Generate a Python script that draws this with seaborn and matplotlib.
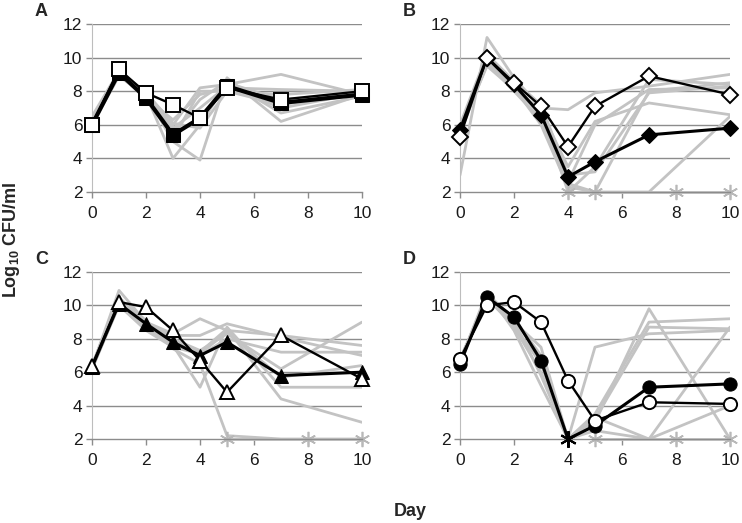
import matplotlib
matplotlib.use("Agg")
import matplotlib.pyplot as plt
import seaborn as sns
import pandas as pd
import numpy as np

sns.set_style("white")
plt.rcParams['font.family'] = ['Liberation Sans', 'DejaVu Sans']
plt.rcParams['mathtext.fontset'] = 'custom'
plt.rcParams['mathtext.rm'] = 'Liberation Sans'
plt.rcParams['mathtext.bf'] = 'Liberation Sans:bold'

days = [0, 1, 2, 3, 4, 5, 7, 10]

# Panel A
a_filled = [6.0, 9.1, 7.6, 5.4, 6.4, 8.3, 7.3, 7.8]
a_open = [6.0, 9.3, 7.9, 7.2, 6.4, 8.2, 7.5, 8.0]
a_gray = [
    [6.2, 9.0, 7.8, 4.0, 6.0, 8.5, 7.5, 7.8],
    [6.5, 9.2, 7.8, 5.0, 3.9, 8.8, 6.2, 7.8],
    [6.3, 9.1, 7.9, 6.0, 8.2, 8.4, 9.0, 7.8],
    [6.1, 9.0, 7.6, 6.3, 7.8, 8.2, 8.1, 8.0],
    [6.0, 8.9, 7.7, 5.8, 7.0, 8.3, 7.0, 7.9],
    [6.2, 9.1, 7.5, 5.5, 7.5, 8.6, 6.7, 7.7],
    [6.0, 9.2, 7.9, 6.1, 5.8, 8.0, 7.8, 8.1],
    [6.1, 9.0, 8.0, 5.2, 8.0, 8.0, 7.2, 7.9],
]
a_bdl_x = []

# Panel B
b_filled = [5.7, 10.0, 8.4, 6.6, 2.9, 3.8, 5.4, 5.8]
b_open = [5.3, 10.0, 8.5, 7.1, 4.7, 7.1, 8.9, 7.8]
b_gray = [
    [3.0, 11.2, 8.8, 7.0, 6.9, 7.9, 8.3, 9.0],
    [5.5, 9.6, 8.3, 6.8, 3.5, 6.2, 7.3, 6.6],
    [5.8, 9.8, 8.3, 6.5, 2.5, 2.0, 8.0, 8.5],
    [6.0, 10.2, 8.6, 7.2, 3.0, 3.2, 7.9, 8.3],
    [5.6, 9.9, 8.2, 6.0, 2.3, 2.0, 2.0, 6.5],
    [5.9, 9.7, 8.0, 6.3, 2.6, 6.0, 8.1, 8.2],
    [5.7, 9.5, 8.1, 6.9, 2.0, 3.5, 8.7, 8.4],
]
b_bdl_x = [4, 5, 8, 10]

# Panel C
c_filled = [6.3, 10.1, 8.9, 7.8, 7.0, 7.8, 5.8, 6.0]
c_open = [6.4, 10.2, 9.9, 8.5, 6.7, 4.8, 8.2, 5.6]
c_gray = [
    [6.3, 10.9, 9.0, 8.3, 9.2, 8.5, 8.2, 7.6],
    [6.4, 10.5, 8.8, 8.2, 8.2, 8.9, 8.1, 7.0],
    [6.2, 10.0, 8.6, 7.6, 5.1, 8.7, 5.1, 5.1],
    [6.3, 10.3, 8.7, 7.9, 7.2, 8.6, 4.4, 3.0],
    [6.4, 10.4, 9.1, 7.4, 6.5, 2.2, 2.0, 2.0],
    [6.2, 10.1, 8.9, 8.0, 7.3, 8.3, 6.2, 9.0],
    [6.3, 10.2, 8.7, 7.7, 7.0, 8.0, 7.2, 7.2],
    [6.4, 10.0, 8.5, 7.5, 7.1, 8.4, 5.7, 6.4],
]
c_bdl_x = [5, 8, 10]

# Panel D
d_filled = [6.5, 10.5, 9.3, 6.7, 2.0, 2.8, 5.1, 5.3]
d_open = [6.8, 10.0, 10.2, 9.0, 5.5, 3.1, 4.2, 4.1]
d_gray = [
    [6.6, 10.8, 8.5, 5.2, 2.0, 7.5, 8.3, 8.5],
    [6.7, 10.6, 9.0, 7.5, 2.0, 3.0, 9.8, 2.0],
    [6.5, 10.7, 9.2, 7.0, 2.0, 3.5, 9.0, 9.2],
    [6.8, 10.4, 8.8, 6.5, 2.0, 2.5, 2.0, 8.7],
    [6.6, 10.5, 8.7, 6.0, 2.0, 3.2, 8.7, 8.6],
    [6.7, 10.3, 9.1, 5.8, 2.0, 3.3, 2.0, 4.0],
]
d_bdl_x = [5, 8, 10]
d_filled_bdl_day = 4

letters = ["A", "B", "C", "D"]
markers = ["s", "D", "^", "o"]

fig = plt.figure(figsize=(7.42, 5.23), dpi=100)
W, H = 742, 523
pos = {
    "A": (92, 24, 270, 168),
    "B": (460, 24, 270, 168),
    "C": (92, 272, 270, 167),
    "D": (460, 272, 270, 167),
}
panels = {
    "A": (a_filled, a_open, a_gray, a_bdl_x),
    "B": (b_filled, b_open, b_gray, b_bdl_x),
    "C": (c_filled, c_open, c_gray, c_bdl_x),
    "D": (d_filled, d_open, d_gray, d_bdl_x),
}
gray = "#c3c3c3"
gridc = "#8c8c8c"
msize = {"s": 10, "D": 8.5, "^": 10.5, "o": 9.5}

for letter, mk in zip(letters, markers):
    x0, y0, w, h = pos[letter]
    ax = fig.add_axes([x0 / W, 1 - (y0 + h) / H, w / W, h / H])
    filled, opn, grays, bdl = panels[letter]
    for g in grays:
        df = pd.DataFrame({"day": days, "cfu": g})
        sns.lineplot(data=df, x="day", y="cfu", ax=ax, color=gray, lw=2.0,
                     estimator=None, legend=False, zorder=2)
    if bdl:
        dfb = pd.DataFrame({"day": bdl, "cfu": [2.0] * len(bdl)})
        sns.lineplot(data=dfb, x="day", y="cfu", ax=ax, color=gray, lw=2.0,
                     marker=(6, 2, 0), markersize=11, markeredgecolor="#b8b8b8",
                     markeredgewidth=1.2, estimator=None, legend=False,
                     zorder=2, clip_on=False)
    ms = msize[mk]
    dfo = pd.DataFrame({"day": days, "cfu": opn})
    dff = pd.DataFrame({"day": days, "cfu": filled})
    if letter == "D":
        keep = [i for i, d in enumerate(days) if d != d_filled_bdl_day]
        sns.lineplot(data=dff, x="day", y="cfu", ax=ax, color="black", lw=2.2,
                     marker=mk, markersize=ms, markerfacecolor="black",
                     markeredgecolor="black", markevery=keep,
                     estimator=None, legend=False, zorder=4, clip_on=False)
        ax.plot([d_filled_bdl_day], [d_filled[days.index(d_filled_bdl_day)]],
                marker=(6, 2, 0), color="black", markersize=12,
                markeredgewidth=1.5, zorder=6, clip_on=False)
    else:
        sns.lineplot(data=dff, x="day", y="cfu", ax=ax, color="black",
                     lw=3.0 if letter == "A" else 2.2,
                     marker=mk, markersize=ms, markerfacecolor="black",
                     markeredgecolor="black", estimator=None, legend=False,
                     zorder=4, clip_on=False)
    sns.lineplot(data=dfo, x="day", y="cfu", ax=ax, color="black", lw=1.7,
                 marker=mk, markersize=ms, markerfacecolor="white",
                 markeredgecolor="black", markeredgewidth=1.4,
                 estimator=None, legend=False, zorder=5, clip_on=False)

    ax.set_xlim(0, 10)
    ax.set_ylim(2, 12)
    ax.set_xticks(range(0, 11, 2))
    ax.set_yticks(range(2, 13, 2))
    ax.set_xlabel("")
    ax.set_ylabel("")
    for yv in range(4, 13, 2):
        ax.axhline(yv, color=gridc, lw=1.0, zorder=1)
    for s in ["top", "right"]:
        ax.spines[s].set_visible(False)
    ax.spines["left"].set_color("#bdbdbd")
    ax.spines["left"].set_linewidth(0.8)
    ax.spines["bottom"].set_color(gridc)
    ax.spines["bottom"].set_linewidth(1.0)
    ax.tick_params(axis="both", which="major", length=4, width=1.0,
                   color=gridc, labelsize=12.5, labelcolor="#1a1a1a",
                   direction="out", bottom=True, left=True, pad=3)
    ax.tick_params(axis="x", pad=6)
    fig.text((x0 - 57) / W, 1 - (y0 - 12) / H, letter, fontsize=13,
             fontweight="bold", ha="left", va="center")

fig.text(12 / W, 1 - 240 / H, r"Log$_{\mathbf{10}}$ CFU/ml", rotation=90,
         fontsize=13, fontweight="bold", ha="center", va="center")
fig.text(410 / W, 1 - 511 / H, "Day", fontsize=13, fontweight="bold",
         ha="center", va="center")

fig.savefig("out.png", dpi=100)
